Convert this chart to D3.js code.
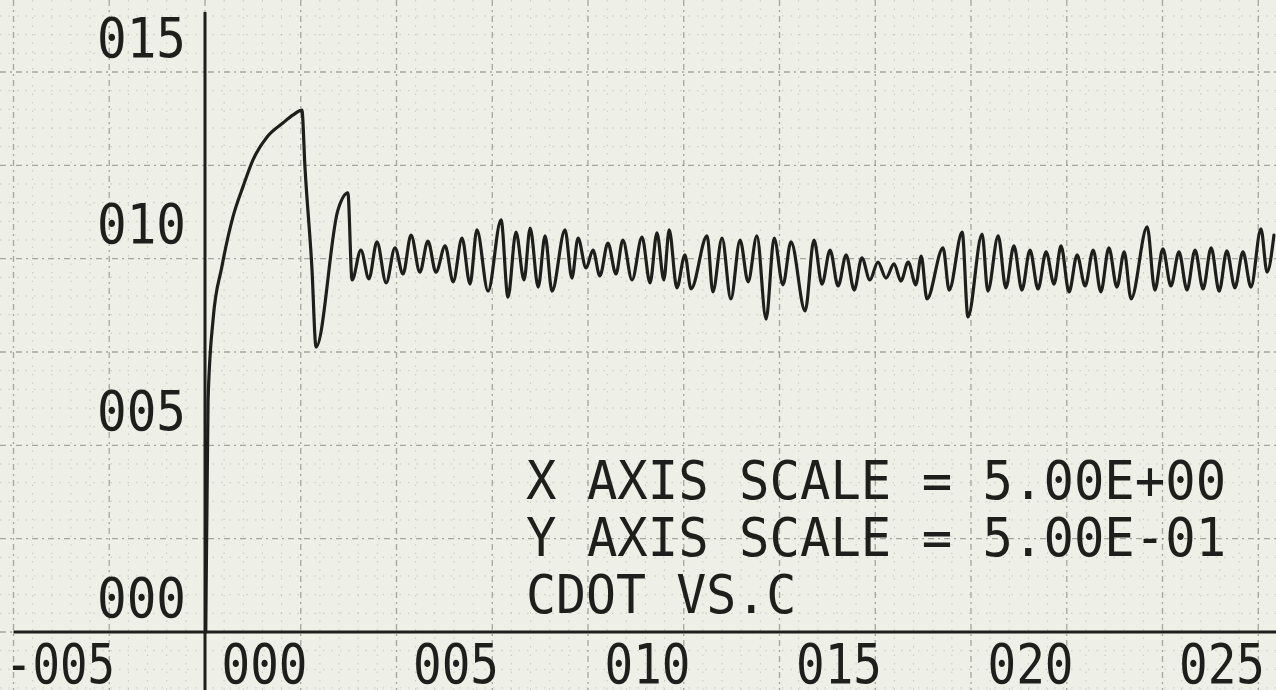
<!DOCTYPE html>
<html><head><meta charset="utf-8">
<script src="https://cdn.jsdelivr.net/npm/d3@7"></script>
<style>html,body{margin:0;padding:0;background:#eef0e7;overflow:hidden}</style>
</head><body><svg id="c" width="1276" height="690"></svg>
<script>
const xTicks=[-5,0,5,10,15,20,25];
const xTickLabels=["-005","000","005","010","015","020","025"];
const yTicks=[0,5,10,15];
const yTickLabels=["000","005","010","015"];
const noteLines=["X AXIS SCALE = 5.00E+00","Y AXIS SCALE = 5.00E-01","CDOT VS.C"];

const cdotC=[0.02,0.03,0.05,0.08,0.21,0.44,0.73,1.00,1.25,1.62,2.04,2.30,2.53,2.61,2.79,2.90,3.47,3.73,3.84,
4.07,4.28,4.49,4.73,4.96,5.17,5.38,5.61,5.82,6.03,6.27,6.48,6.71,6.92,7.10,7.39,7.73,7.91,8.12,8.33,8.49,8.70,8.88,9.06,
9.40,9.58,9.74,9.95,10.13,10.31,10.52,10.73,10.91,11.15,11.41,11.62,11.80,11.98,12.12,12.32,12.53,12.69,
13.11,13.26,13.50,13.73,13.97,14.18,14.41,14.65,14.86,15.09,15.30,15.67,15.90,16.11,16.32,16.53,16.74,16.95,
17.15,17.36,17.57,17.78,17.99,18.17,18.36,18.56,18.70,18.85,19.27,19.43,19.77,19.92,20.29,20.44,20.71,20.91,
21.12,21.33,21.54,21.75,21.96,22.17,22.35,22.56,22.77,22.98,23.19,23.39,23.60,23.81,24.00,24.18,24.60,24.80,
25.01,25.22,25.43,25.64,25.85,26.06,26.27,26.48,26.68,26.89,27.10,27.31,27.57,27.73,27.91];
const cdotV=[0.0,1.2,3.2,6.2,8.36,9.78,11.12,11.95,12.64,13.26,13.64,13.85,13.98,12.45,9.78,7.63,11.30,11.76,9.43,
10.23,9.46,10.45,9.35,10.29,9.59,10.63,9.64,10.47,9.64,10.34,9.38,10.55,9.32,10.77,9.13,11.04,8.97,10.71,9.43,10.82,9.24,10.61,9.13,
10.77,9.48,10.55,9.75,10.23,9.54,10.42,9.59,10.50,9.43,10.58,9.35,10.69,9.43,10.77,9.22,10.10,9.19,
10.61,9.11,10.55,8.92,10.50,9.38,10.61,8.38,10.55,9.30,10.45,8.60,10.50,9.32,10.23,9.27,10.10,9.16,
10.02,9.43,9.91,9.48,9.86,9.40,9.91,9.30,10.07,8.92,10.29,9.16,10.71,8.44,10.66,9.13,10.61,9.22,
10.34,9.16,10.23,9.19,10.18,9.32,10.34,9.11,10.10,9.27,10.23,9.11,10.29,9.24,10.18,8.92,10.85,9.16,
10.26,9.27,10.18,9.16,10.23,9.19,10.29,9.13,10.21,9.22,10.18,9.24,10.80,9.64,10.63];

const W=1276,H=690;
const FONT="'DejaVu Sans Mono', 'Liberation Mono', monospace";
const INK="#1e1e1c";
const svg=d3.select("#c");
svg.append("rect").attr("width",W).attr("height",H).attr("fill","#eef0e7");

const x=d3.scaleLinear().domain([0,25]).range([205,1162.5]);
const y=d3.scaleLinear().domain([0,15]).range([632,72]);

// paper grid
const gx=d3.range(-5.5,28.01,0.5), gy=d3.range(-1.5,17.51,0.5);
const isMajor=v=>Math.abs(v/2.5-Math.round(v/2.5))<1e-6;
const grid=svg.append("g");
grid.selectAll(".vm").data(gx.filter(v=>!isMajor(v))).join("line")
  .attr("x1",d=>x(d)).attr("x2",d=>x(d)).attr("y1",0).attr("y2",H)
  .attr("stroke","#a3a59b").attr("stroke-width",1).attr("stroke-dasharray","1.5,7").attr("opacity",0.5);
grid.selectAll(".hm").data(gy.filter(v=>!isMajor(v))).join("line")
  .attr("y1",d=>y(d)).attr("y2",d=>y(d)).attr("x1",0).attr("x2",W)
  .attr("stroke","#a3a59b").attr("stroke-width",1).attr("stroke-dasharray","1.5,7").attr("opacity",0.5);
grid.selectAll(".vM").data(gx.filter(isMajor)).join("line")
  .attr("x1",d=>x(d)).attr("x2",d=>x(d)).attr("y1",0).attr("y2",H)
  .attr("stroke","#7e8077").attr("stroke-width",1.3).attr("stroke-dasharray","6,4,2,4").attr("opacity",0.65);
grid.selectAll(".hM").data(gy.filter(isMajor)).join("line")
  .attr("y1",d=>y(d)).attr("y2",d=>y(d)).attr("x1",0).attr("x2",W)
  .attr("stroke","#7e8077").attr("stroke-width",1.3).attr("stroke-dasharray","6,4,2,4").attr("opacity",0.65);

// axes
const xAxis=svg.append("g").attr("transform",`translate(0,${y(0)})`)
  .call(d3.axisBottom(x).tickValues(xTicks).tickFormat((d,i)=>xTickLabels[i]).tickSize(0));
xAxis.select(".domain").remove();
xAxis.selectAll("text").attr("font-family",FONT).attr("font-size",55).attr("fill",INK)
  .attr("text-anchor","start").attr("dy",null).attr("y",51)
  .attr("x",(d,i)=>xTickLabels[i].startsWith("-")?-9:16)
  .attr("textLength",(d,i)=>xTickLabels[i].startsWith("-")?110:86)
  .attr("lengthAdjust","spacingAndGlyphs");
svg.append("line").attr("x1",x(-5)).attr("x2",W).attr("y1",y(0)).attr("y2",y(0))
  .attr("stroke",INK).attr("stroke-width",3);

const yAxis=svg.append("g").attr("transform",`translate(${x(0)},0)`)
  .call(d3.axisLeft(y).tickValues(yTicks).tickFormat((d,i)=>yTickLabels[i]).tickSize(0));
yAxis.select(".domain").remove();
yAxis.selectAll("text").attr("font-family",FONT).attr("font-size",55).attr("fill",INK)
  .attr("text-anchor","start").attr("dy",-16).attr("x",-108)
  .attr("textLength",89).attr("lengthAdjust","spacingAndGlyphs");
svg.append("line").attr("x1",x(0)).attr("x2",x(0)).attr("y1",12).attr("y2",H)
  .attr("stroke",INK).attr("stroke-width",3);

// curve
const pts=cdotC.map((c,i)=>[c,cdotV[i]]);
svg.append("path").datum(pts)
  .attr("d",d3.line().x(d=>x(d[0])).y(d=>y(d[1])).curve(d3.curveMonotoneX))
  .attr("fill","none").attr("stroke",INK).attr("stroke-width",3.2)
  .attr("stroke-linejoin","round").attr("stroke-linecap","round");

// note text
const baselines=[499,556,613];
svg.append("g").selectAll("text").data(noteLines).join("text")
  .attr("x",526).attr("y",(d,i)=>baselines[i])
  .attr("font-family",FONT).attr("font-size",54).attr("fill",INK)
  .attr("textLength",d=>d.length*30.7-6).attr("lengthAdjust","spacingAndGlyphs")
  .text(d=>d);
</script></body></html>
